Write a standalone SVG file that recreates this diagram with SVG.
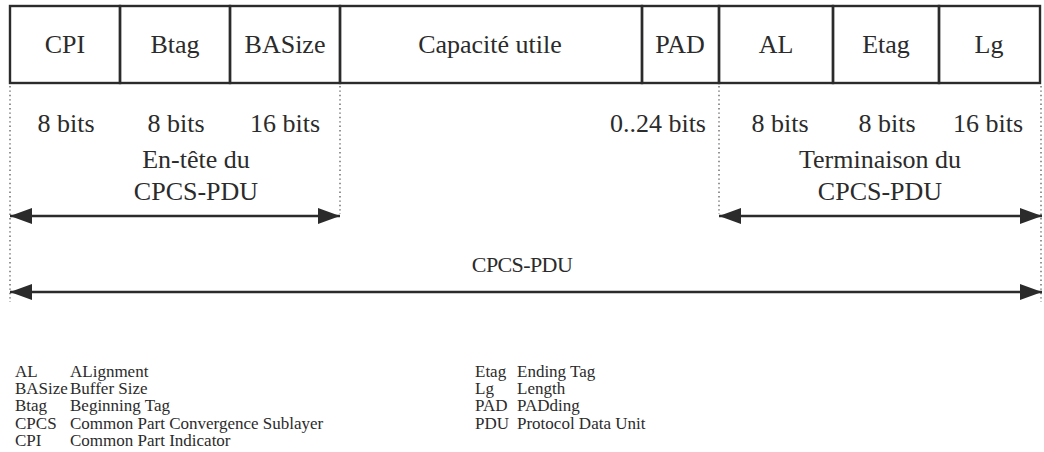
<svg xmlns="http://www.w3.org/2000/svg" width="1044" height="452" viewBox="0 0 1044 452">
<defs>
<marker id="ah" viewBox="0 0 22 16" refX="22" refY="8" markerWidth="22" markerHeight="16" markerUnits="userSpaceOnUse" orient="auto-start-reverse">
<path d="M0,0 L22,8 L0,16 Z" fill="#2b2b2b"/>
</marker>
</defs>
<rect width="1044" height="452" fill="#ffffff"/>
<g id="fields" fill="none" stroke="#2b2b2b" stroke-width="2.4">
<g id="cpi"><rect x="10" y="6" width="110" height="77"/><text x="65" y="53" font-family="Liberation Serif" font-size="26" fill="#2b2b2b" stroke="none" text-anchor="middle">CPI</text></g>
<g id="btag"><rect x="120" y="6" width="110" height="77"/><text x="175" y="53" font-family="Liberation Serif" font-size="26" fill="#2b2b2b" stroke="none" text-anchor="middle">Btag</text></g>
<g id="basize"><rect x="230" y="6" width="110" height="77"/><text x="285" y="53" font-family="Liberation Serif" font-size="26" fill="#2b2b2b" stroke="none" text-anchor="middle">BASize</text></g>
<g id="payload"><rect x="340" y="6" width="302" height="77"/><text x="490" y="53" font-family="Liberation Serif" font-size="26" fill="#2b2b2b" stroke="none" text-anchor="middle">Capacité utile</text></g>
<g id="pad"><rect x="642" y="6" width="77" height="77"/><text x="680" y="53" font-family="Liberation Serif" font-size="26" fill="#2b2b2b" stroke="none" text-anchor="middle">PAD</text></g>
<g id="al"><rect x="719" y="6" width="114" height="77"/><text x="776" y="53" font-family="Liberation Serif" font-size="26" fill="#2b2b2b" stroke="none" text-anchor="middle">AL</text></g>
<g id="etag"><rect x="833" y="6" width="106" height="77"/><text x="886" y="53" font-family="Liberation Serif" font-size="26" fill="#2b2b2b" stroke="none" text-anchor="middle">Etag</text></g>
<g id="lg"><rect x="939" y="6" width="101" height="77"/><text x="989" y="53" font-family="Liberation Serif" font-size="26" fill="#2b2b2b" stroke="none" text-anchor="middle">Lg</text></g>
</g>
<g id="guides" stroke="#666" stroke-width="1.4" stroke-dasharray="1.4 3" fill="none">
<line x1="10" y1="86" x2="10" y2="302"/>
<line x1="340" y1="86" x2="340" y2="214"/>
<line x1="719" y1="86" x2="719" y2="214"/>
<line x1="1041" y1="86" x2="1041" y2="302"/>
</g>
<g id="sizes">
<text x="66" y="132" font-family="Liberation Serif" font-size="26" fill="#2b2b2b" text-anchor="middle">8 bits</text>
<text x="176" y="132" font-family="Liberation Serif" font-size="26" fill="#2b2b2b" text-anchor="middle">8 bits</text>
<text x="285" y="132" font-family="Liberation Serif" font-size="26" fill="#2b2b2b" text-anchor="middle">16 bits</text>
<text x="706" y="132" font-family="Liberation Serif" font-size="26" fill="#2b2b2b" text-anchor="end">0..24 bits</text>
<text x="780" y="132" font-family="Liberation Serif" font-size="26" fill="#2b2b2b" text-anchor="middle">8 bits</text>
<text x="887" y="132" font-family="Liberation Serif" font-size="26" fill="#2b2b2b" text-anchor="middle">8 bits</text>
<text x="988" y="132" font-family="Liberation Serif" font-size="26" fill="#2b2b2b" text-anchor="middle">16 bits</text>
</g>
<g id="header-label">
<text x="196" y="168" font-family="Liberation Serif" font-size="26" fill="#2b2b2b" text-anchor="middle">En-tête du</text>
<text x="196" y="200" font-family="Liberation Serif" font-size="26" fill="#2b2b2b" text-anchor="middle">CPCS-PDU</text>
</g>
<g id="trailer-label">
<text x="880" y="168" font-family="Liberation Serif" font-size="26" fill="#2b2b2b" text-anchor="middle">Terminaison du</text>
<text x="880" y="200" font-family="Liberation Serif" font-size="26" fill="#2b2b2b" text-anchor="middle">CPCS-PDU</text>
</g>
<g id="pdu-label">
<text x="522" y="272" font-family="Liberation Serif" font-size="22" letter-spacing="-0.6" fill="#2b2b2b" text-anchor="middle">CPCS-PDU</text>
</g>
<g id="connectors" stroke="#2b2b2b" stroke-width="2.6" fill="none">
<line x1="10" y1="216" x2="340" y2="216" marker-start="url(#ah)" marker-end="url(#ah)"/>
<line x1="719" y1="216" x2="1042" y2="216" marker-start="url(#ah)" marker-end="url(#ah)"/>
<line x1="10" y1="292" x2="1042" y2="292" marker-start="url(#ah)" marker-end="url(#ah)"/>
</g>
<g id="legend">
<text x="15" y="377" font-family="Liberation Serif" font-size="17" fill="#2b2b2b">AL</text>
<text x="70" y="377" font-family="Liberation Serif" font-size="17" fill="#2b2b2b">ALignment</text>
<text x="15" y="394" font-family="Liberation Serif" font-size="17" fill="#2b2b2b">BASize</text>
<text x="70" y="394" font-family="Liberation Serif" font-size="17" fill="#2b2b2b">Buffer Size</text>
<text x="15" y="411" font-family="Liberation Serif" font-size="17" fill="#2b2b2b">Btag</text>
<text x="70" y="411" font-family="Liberation Serif" font-size="17" fill="#2b2b2b">Beginning Tag</text>
<text x="15" y="429" font-family="Liberation Serif" font-size="17" fill="#2b2b2b">CPCS</text>
<text x="70" y="429" font-family="Liberation Serif" font-size="17" fill="#2b2b2b">Common Part Convergence Sublayer</text>
<text x="15" y="446" font-family="Liberation Serif" font-size="17" fill="#2b2b2b">CPI</text>
<text x="70" y="446" font-family="Liberation Serif" font-size="17" fill="#2b2b2b">Common Part Indicator</text>
<text x="475" y="377" font-family="Liberation Serif" font-size="17" fill="#2b2b2b">Etag</text>
<text x="517" y="377" font-family="Liberation Serif" font-size="17" fill="#2b2b2b">Ending Tag</text>
<text x="475" y="394" font-family="Liberation Serif" font-size="17" fill="#2b2b2b">Lg</text>
<text x="517" y="394" font-family="Liberation Serif" font-size="17" fill="#2b2b2b">Length</text>
<text x="475" y="411" font-family="Liberation Serif" font-size="17" fill="#2b2b2b">PAD</text>
<text x="517" y="411" font-family="Liberation Serif" font-size="17" fill="#2b2b2b">PADding</text>
<text x="475" y="429" font-family="Liberation Serif" font-size="17" fill="#2b2b2b">PDU</text>
<text x="517" y="429" font-family="Liberation Serif" font-size="17" fill="#2b2b2b">Protocol Data Unit</text>
</g>
</svg>
